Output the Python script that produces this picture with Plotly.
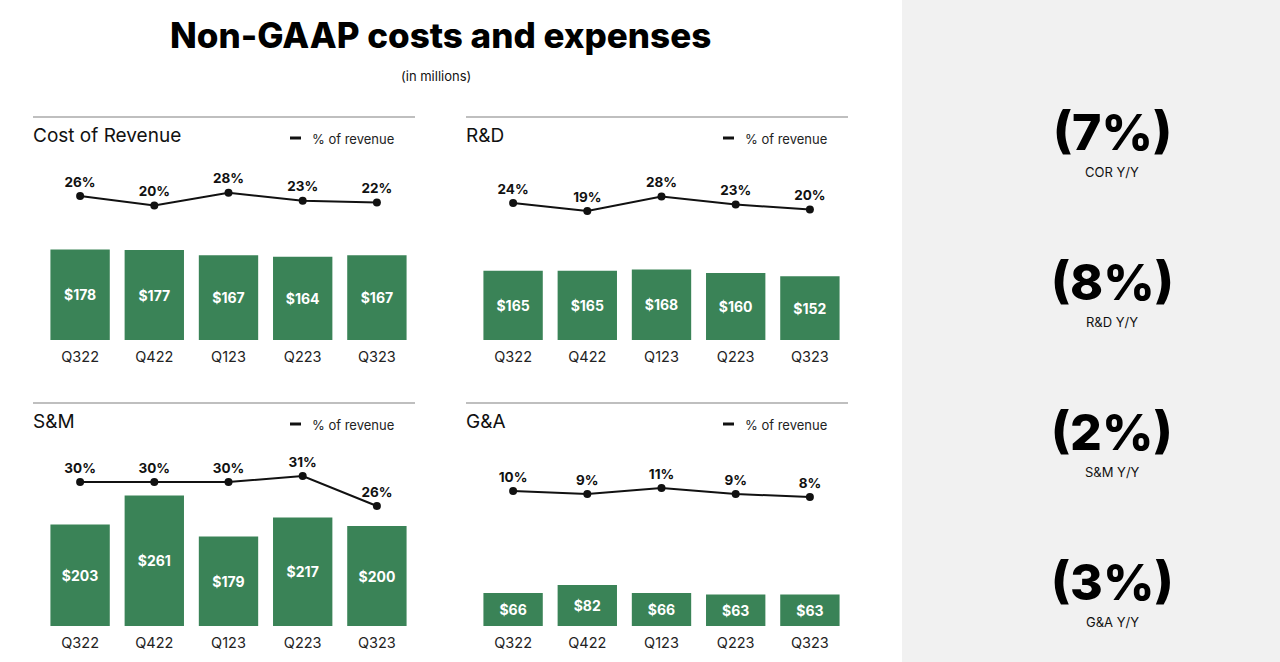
import plotly.graph_objects as go

# ---------------- data ----------------
quarters = ["Q322", "Q422", "Q123", "Q223", "Q323"]

cor_cost = [178, 177, 167, 164, 167]
cor_pct = [26, 20, 28, 23, 22]

rd_cost = [165, 165, 168, 160, 152]
rd_pct = [24, 19, 28, 23, 20]

sm_cost = [203, 261, 179, 217, 200]
sm_pct = [30, 30, 30, 31, 26]

ga_cost = [66, 82, 66, 63, 63]
ga_pct = [10, 9, 11, 9, 8]

panel_titles = ["Cost of Revenue", "R&D", "S&M", "G&A"]
yoy_values = ["(7%)", "(8%)", "(2%)", "(3%)"]
yoy_labels = ["COR Y/Y", "R&D Y/Y", "S&M Y/Y", "G&A Y/Y"]

title_text = "Non-GAAP costs and expenses"
subtitle_text = "(in millions)"
legend_text = "% of revenue"

# ---------------- layout helpers ----------------
W, H = 1280, 662
def px(x):
    return x / W
def py(y):
    return 1 - y / H

BAR_COLOR = "#3a8357"
FONT = "Inter"

# panel geometry: x domain (px), bar baseline (px), bar px/unit, line px/%, line ref (value, px)
panels = [
    dict(cost=cor_cost, pct=cor_pct, x0=43, x1=414, base=340, bscale=0.508, lscale=1.6, ref=(26, 196),
         sep_y=117, title_y=135, left=33),
    dict(cost=rd_cost, pct=rd_pct, x0=476, x1=847, base=340, bscale=0.419, lscale=1.6, ref=(24, 203),
         sep_y=117, title_y=135, left=466),
    dict(cost=sm_cost, pct=sm_pct, x0=43, x1=414, base=626, bscale=0.5, lscale=6.0, ref=(30, 482),
         sep_y=403, title_y=421, left=33),
    dict(cost=ga_cost, pct=ga_pct, x0=476, x1=847, base=626, bscale=0.5, lscale=3.0, ref=(10, 491),
         sep_y=403, title_y=421, left=466),
]

fig = go.Figure()
layout_axes = {}
shapes = []
annotations = []
DOM_H = 180

for i, p in enumerate(panels):
    n = i + 1
    xa = "x" if n == 1 else f"x{n}"
    yb = 2 * i + 1
    yl = 2 * i + 2
    yb_name = "y" if yb == 1 else f"y{yb}"
    yl_name = f"y{yl}"

    fig.add_trace(go.Bar(
        x=quarters, y=p["cost"], xaxis=xa, yaxis=yb_name,
        marker=dict(color=BAR_COLOR, line=dict(width=0)),
        texttemplate="$%{y}", textposition="inside", insidetextanchor="middle",
        textangle=0, constraintext="none",
        insidetextfont=dict(family=FONT, size=14, color="white", weight="bold"),
        showlegend=False, hoverinfo="skip",
    ))
    fig.add_trace(go.Scatter(
        x=quarters, y=p["pct"], xaxis=xa, yaxis=yl_name,
        mode="lines+markers+text",
        text=[f"{v}%" for v in p["pct"]], textposition="top center",
        textfont=dict(family=FONT, size=13.5, color="#111", weight="bold"),
        line=dict(color="#111", width=2), marker=dict(color="#111", size=8),
        cliponaxis=False, showlegend=False, hoverinfo="skip",
    ))

    ydom = [py(p["base"]), py(p["base"] - DOM_H)]
    xkey = "xaxis" if n == 1 else f"xaxis{n}"
    layout_axes[xkey] = dict(
        domain=[px(p["x0"]), px(p["x1"])], anchor=yb_name, type="category",
        range=[-0.5, 4.5], showgrid=False, zeroline=False, showline=False,
        ticks="", ticklabelstandoff=6,
        tickfont=dict(family=FONT, size=14.5, color="#222"), fixedrange=True,
    )
    ybkey = "yaxis" if yb == 1 else f"yaxis{yb}"
    layout_axes[ybkey] = dict(
        domain=ydom, anchor=xa, range=[0, DOM_H / p["bscale"]],
        visible=False, showgrid=False, zeroline=False,
    )
    rv, rpx = p["ref"]
    r0 = rv - (p["base"] - rpx) / p["lscale"]
    layout_axes[f"yaxis{yl}"] = dict(
        domain=ydom, anchor=xa, overlaying=yb_name, range=[r0, r0 + DOM_H / p["lscale"]],
        visible=False, showgrid=False, zeroline=False,
    )

    # separator line
    shapes.append(dict(type="line", xref="paper", yref="paper",
                       x0=px(p["left"]), x1=px(p["left"] + 382), y0=py(p["sep_y"]), y1=py(p["sep_y"]),
                       line=dict(color="#808080", width=1.2)))
    # panel title
    annotations.append(dict(text=panel_titles[i], xref="paper", yref="paper",
                            x=px(p["left"] - 2), y=py(p["title_y"]), xanchor="left", yanchor="middle",
                            showarrow=False, font=dict(family=FONT, size=19, color="#111")))
    # legend mark + text
    lx = p["left"] + 257
    shapes.append(dict(type="line", xref="paper", yref="paper",
                       x0=px(lx), x1=px(lx + 11), y0=py(p["title_y"] + 3), y1=py(p["title_y"] + 3),
                       line=dict(color="#111", width=3)))
    annotations.append(dict(text=legend_text, xref="paper", yref="paper",
                            x=px(lx + 20), y=py(p["title_y"] + 4), xanchor="left", yanchor="middle",
                            showarrow=False, font=dict(family=FONT, size=13, color="#222")))

# right gray panel
shapes.insert(0, dict(type="rect", xref="paper", yref="paper", x0=px(902), x1=1, y0=0, y1=1,
                      fillcolor="#f1f1f1", line=dict(width=0), layer="below"))

yoy_y = [132, 282, 432, 582]
for v, lab, yy in zip(yoy_values, yoy_labels, yoy_y):
    annotations.append(dict(text=v, xref="paper", yref="paper", x=px(1112), y=py(yy),
                            xanchor="center", yanchor="middle", showarrow=False,
                            font=dict(family=FONT, size=50, color="#000", weight=800)))
    annotations.append(dict(text=lab, xref="paper", yref="paper", x=px(1112), y=py(yy + 40),
                            xanchor="center", yanchor="middle", showarrow=False,
                            font=dict(family=FONT, size=13, color="#111")))

# title and subtitle
annotations.append(dict(text=title_text, xref="paper", yref="paper", x=px(440), y=py(35),
                        xanchor="center", yanchor="middle", showarrow=False,
                        font=dict(family=FONT, size=35, color="#000", weight=800)))
annotations.append(dict(text=subtitle_text, xref="paper", yref="paper", x=px(436), y=py(76),
                        xanchor="center", yanchor="middle", showarrow=False,
                        font=dict(family=FONT, size=13, color="#111")))

fig.update_layout(
    width=W, height=H,
    margin=dict(l=0, r=0, t=0, b=0),
    paper_bgcolor="white", plot_bgcolor="rgba(0,0,0,0)",
    bargap=0.2, showlegend=False,
    shapes=shapes, annotations=annotations,
    font=dict(family=FONT),
    **layout_axes,
)

fig.write_html("out.html", config={"displayModeBar": False})
